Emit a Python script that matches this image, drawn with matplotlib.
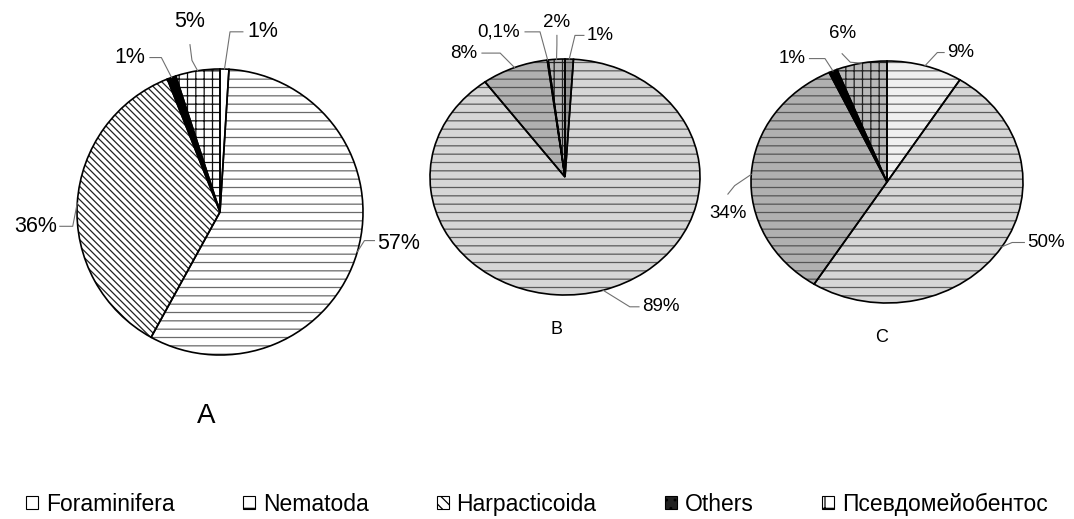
import matplotlib
matplotlib.use("Agg")
import matplotlib.pyplot as plt
from matplotlib.patches import Patch
import numpy as np

plt.rcParams['font.family'] = ['Liberation Sans', 'DejaVu Sans']
plt.rcParams['hatch.linewidth'] = 0.9

# data
groups = ['Foraminifera', 'Nematoda', 'Harpacticoida', 'Others', 'Псевдомейобентос']
vals_a = [1, 57, 36, 1, 5]
vals_b = [1, 89, 8, 0.1, 2]
vals_c = [9, 50, 34, 1, 6]
labels_a = ['1%', '57%', '36%', '1%', '5%']
labels_b = ['1%', '89%', '8%', '0,1%', '2%']
labels_c = ['9%', '50%', '34%', '1%', '6%']

W, H = 1074, 519
fig = plt.figure(figsize=(W / 100, H / 100), dpi=100)

PAD = 1.06


def make_ax(cx, cy, rx, ry):
    ax = fig.add_axes([(cx - rx * PAD) / W, 1 - (cy + ry * PAD) / H,
                       2 * rx * PAD / W, 2 * ry * PAD / H])
    return ax


def draw_pie(ax, vals, faces, hatches, hcolors):
    wedges, _ = ax.pie(vals, startangle=90, counterclock=False, radius=1)
    for w, fc, h, hc in zip(wedges, faces, hatches, hcolors):
        w.set_facecolor(fc)
        w.set_edgecolor(hc)
        w.set_hatch(h)
        w.set_linewidth(0)
        w.set_clip_on(False)
    outl, _ = ax.pie(vals, startangle=90, counterclock=False, radius=1,
                     wedgeprops=dict(facecolor='none', edgecolor='black', linewidth=1.2))
    for w in outl:
        w.set_clip_on(False)
    ax.set_aspect('auto')
    ax.set_xlim(-PAD, PAD)
    ax.set_ylim(-PAD, PAD)
    ax.axis('off')
    return wedges


def mid_edge(vals, i):
    tot = sum(vals)
    start = sum(vals[:i]) / tot * 360
    mid = np.deg2rad(start + vals[i] / tot * 180)
    return np.sin(mid), np.cos(mid)


def put_labels(ax, vals, labels, spots, fs):
    # spots: (text x, text y, ha, leader start, leader elbow)
    for i, (lab, sp) in enumerate(zip(labels, spots)):
        tx, ty, ha, p0, p1 = sp
        ex, ey = mid_edge(vals, i)
        ax.plot([p0[0], p1[0], ex], [p0[1], p1[1], ey], color='#707070',
                lw=0.8, clip_on=False, zorder=1)
        ax.text(tx, ty, lab, ha=ha, va='center', fontsize=fs, clip_on=False)


# Pie A
axa = make_ax(220, 212, 143, 143)
draw_pie(axa, vals_a,
         ['white', 'white', 'white', 'black', 'white'],
         ['', '--', '\\\\\\\\\\', '', '++'],
         ['black', '#6a6a6a', '#202020', 'black', '#101010'])
spots_a = [
    (0.19, 1.26, 'left', (0.16, 1.26), (0.07, 1.26)),
    (1.10, -0.22, 'left', (1.08, -0.20), (1.01, -0.20)),
    (-1.14, -0.10, 'right', (-1.12, -0.10), (-1.03, -0.10)),
    (-0.52, 1.08, 'right', (-0.49, 1.08), (-0.41, 1.08)),
    (-0.21, 1.33, 'center', (-0.21, 1.17), (-0.196, 1.06)),
]
put_labels(axa, vals_a, labels_a, spots_a, 15.5)

# Pie B
axb = make_ax(565, 177, 135, 118)
draw_pie(axb, vals_b,
         ['#9a9a9a', '#d6d6d6', '#b0b0b0', 'black', '#b8b8b8'],
         ['--', '--', '--', '', '++'],
         ['#444444', '#5a5a5a', '#555555', 'black', '#222222'])
spots_b = [
    (0.163, 1.20, 'left', (0.14, 1.20), (0.074, 1.20)),
    (0.57, -1.10, 'left', (0.548, -1.10), (0.48, -1.10)),
    (-0.65, 1.05, 'right', (-0.615, 1.05), (-0.48, 1.05)),
    (-0.333, 1.23, 'right', (-0.296, 1.23), (-0.185, 1.23)),
    (-0.06, 1.31, 'center', (-0.06, 1.20), (-0.06, 1.12)),
]
put_labels(axb, vals_b, labels_b, spots_b, 13.5)

# Pie C
axc = make_ax(887, 182, 136, 121)
draw_pie(axc, vals_c,
         ['#f0f0f0', '#d6d6d6', '#b0b0b0', 'black', '#b8b8b8'],
         ['--', '--', '--', '', '++'],
         ['#6a6a6a', '#5a5a5a', '#555555', 'black', '#222222'])
spots_c = [
    (0.44, 1.07, 'left', (0.42, 1.07), (0.37, 1.07)),
    (1.03, -0.50, 'left', (1.01, -0.50), (0.92, -0.50)),
    (-1.03, -0.26, 'right', (-1.17, -0.10), (-1.12, -0.03)),
    (-0.60, 1.02, 'right', (-0.57, 1.02), (-0.456, 1.02)),
    (-0.33, 1.23, 'center', (-0.33, 1.06), (-0.27, 0.99)),
]
put_labels(axc, vals_c, labels_c, spots_c, 13.5)

# panel letters
fig.text(206 / W, 1 - 416 / H, 'A', ha='center', va='center', fontsize=20)
fig.text(557 / W, 1 - 330 / H, 'B', ha='center', va='center', fontsize=13)
fig.text(882 / W, 1 - 338 / H, 'C', ha='center', va='center', fontsize=13)

# legend
handles = [
    Patch(facecolor='white', edgecolor='black', lw=0.8),
    Patch(facecolor='white', edgecolor='black', hatch='-', lw=0.8),
    Patch(facecolor='white', edgecolor='black', hatch='\\\\\\', lw=0.8),
    Patch(facecolor='#222222', edgecolor='black', hatch='..', lw=0.8),
    Patch(facecolor='white', edgecolor='black', hatch='+', lw=0.8),
]
fig.legend(handles, groups, loc='center', bbox_to_anchor=(0.5, 1 - 504 / H),
           ncol=5, frameon=False, fontsize=16.5, handlelength=0.5,
           handleheight=0.5, handletextpad=0.35, columnspacing=3.0)

fig.savefig('out.png', dpi=100)
